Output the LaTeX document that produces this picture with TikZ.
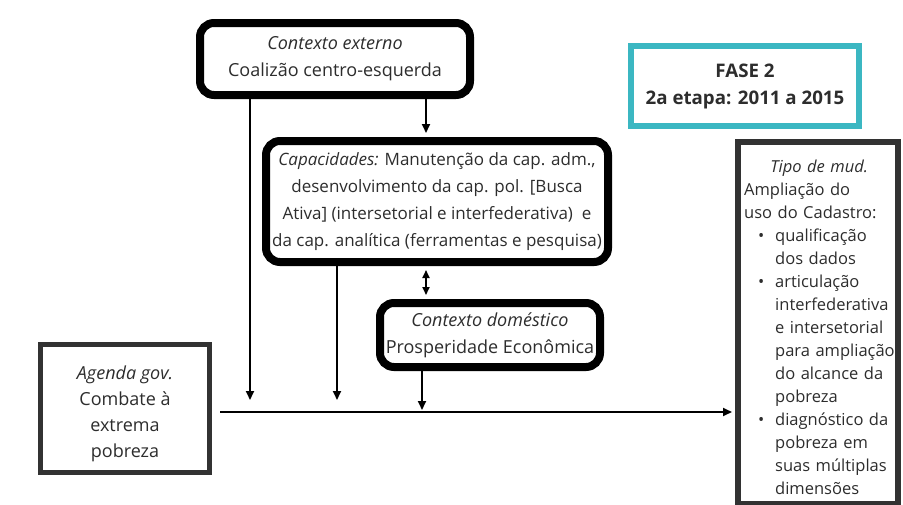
\documentclass[tikz,border=0pt]{standalone}
\usepackage{fontspec}
\setmainfont{Open Sans}
\usetikzlibrary{arrows.meta}
\definecolor{txt}{RGB}{45,45,45}
\definecolor{tealframe}{RGB}{59,183,194}
\definecolor{darkframe}{RGB}{50,50,50}
\newcommand\bitem[1]{{\leftskip=31pt\noindent\hspace*{-17pt}\makebox[17pt][l]{\textbullet}#1\par}}
\begin{document}
\begin{tikzpicture}[x=1pt,y=-1pt,
  font=\fontsize{18}{27}\selectfont, text=txt,
  rbox/.style={draw=black, line width=8pt, rounded corners=14pt, align=center, inner sep=0pt},
  sbox/.style={draw=darkframe, line width=5pt, inner sep=0pt},
  plain/.style={align=center, inner sep=0pt},
  arr/.style={draw=black, line width=1.8pt, -{Triangle[length=9pt,width=8pt]}},
  darr/.style={draw=black, line width=1.8pt, {Triangle[length=8pt,width=7pt]}-{Triangle[length=8pt,width=7pt]}}
  ]
\useasboundingbox (0,0) rectangle (903,504);
\fill[white] (0,0) rectangle (903,504);

\node[rbox, minimum width=270pt, minimum height=72pt] (ext) at (335,59)
  {\textit{Contexto externo}\\Coalizão centro-esquerda};
\node[rbox, minimum width=342pt, minimum height=121pt, font=\fontsize{17}{27}\selectfont] (cap) at (437,201.5)
  {\textit{Capacidades:} Manutenção da cap. adm.,\\
   desenvolvimento da cap. pol. [Busca\\
   Ativa] (intersetorial e interfederativa)\ \ e\\
   da cap. analítica (ferramentas e pesquisa)};
\node[rbox, minimum width=220pt, minimum height=64pt] (dom) at (490,335)
  {\textit{Contexto doméstico}\\Prosperidade Econômica};

\node[sbox, minimum width=169pt, minimum height=128pt] (ag) at (125,408.5) {};
\node[plain, font=\fontsize{18}{26}\selectfont] (agt) at (125,414)
  {\textit{Agenda gov.}\\Combate à\\extrema\\pobreza};

\node[draw=tealframe, line width=6pt, minimum width=228pt, minimum height=80pt,
      align=center, inner sep=0pt, font=\fontsize{18.7}{27}\selectfont\bfseries] (fase) at (745,86)
  {FASE 2\\2a etapa: 2011 a 2015};

\node[sbox, line width=6pt, minimum width=160pt, minimum height=362pt] (tipo) at (818,323) {};
\node[anchor=north west, inner sep=0pt, text width=156pt, align=left,
      font=\fontsize{16.5}{23}\selectfont] (tipot) at (744,160)
  {\hyphenpenalty=10000
   \makebox[150pt][c]{\textit{Tipo de mud.}}\par
   Ampliação do\\uso do Cadastro:\par
   \bitem{qualificação\\dos dados}
   \bitem{articulação\\interfederativa\\e intersetorial\\para ampliação\\do alcance da\\pobreza}
   \bitem{diagnóstico da\\pobreza em\\suas múltiplas\\dimensões}};

\coordinate (a1) at (250,400);
\coordinate (a2) at (337,400);
\coordinate (a3) at (422,410);
\coordinate (x426) at (426,0);
\coordinate (m0) at (220,412);

\draw[arr] (ext.south -| a1) -- (a1);
\draw[arr, shorten >=4pt] (ext.south -| x426) -- (cap.north -| x426);
\draw[arr] (cap.south -| a2) -- (a2);
\draw[darr, shorten >=4pt, shorten <=4pt] (cap.south -| x426) -- (dom.north -| x426);
\draw[arr] (dom.south -| a3) -- (a3);
\draw[arr, shorten >=3pt] (m0) -- (m0 -| tipo.west);
\end{tikzpicture}
\end{document}
